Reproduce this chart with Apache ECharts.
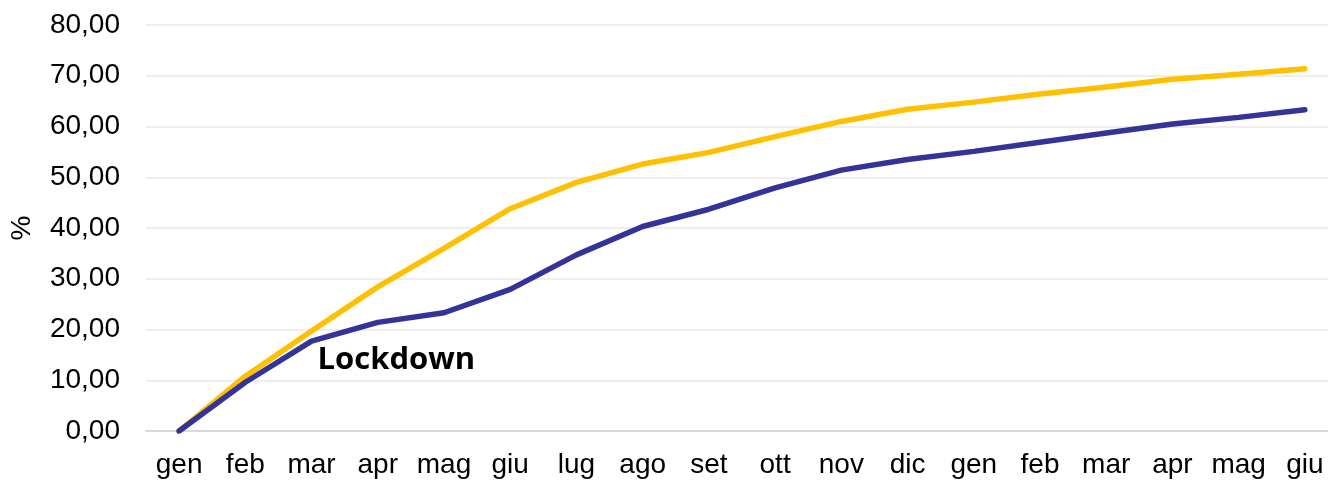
<!DOCTYPE html>
<html>
<head>
<meta charset="utf-8">
<script src="https://cdn.jsdelivr.net/npm/echarts@6/dist/echarts.min.js"></script>
<style>
html,body{margin:0;padding:0;background:#fff;}
#c{width:1328px;height:481px;}
</style>
</head>
<body>
<div id="c"></div>
<script>
const categories = ['gen','feb','mar','apr','mag','giu','lug','ago','set','ott','nov','dic','gen','feb','mar','apr','mag','giu'];
const yellowSeries = [0, 10.8, 19.7, 28.4, 36.0, 43.8, 49.0, 52.6, 54.9, 58.0, 61.0, 63.4, 64.8, 66.4, 67.8, 69.3, 70.3, 71.4];
const blueSeries = [0, 9.6, 17.7, 21.4, 23.3, 27.9, 34.7, 40.3, 43.7, 47.9, 51.4, 53.5, 55.1, 56.9, 58.7, 60.5, 61.8, 63.3];
const yTicks = {min: 0, max: 80, interval: 10};
const annotation = 'Lockdown';

const chart = echarts.init(document.getElementById('c'));
const fmt = v => v.toFixed(2).replace('.', ',');
chart.setOption({
  animation: false,
  grid: {left: 146, width: 1192, top: 25, bottom: 50, containLabel: false, outerBoundsMode: 'none'},
  xAxis: {
    type: 'category',
    data: categories,
    boundaryGap: true,
    axisLine: {show: true, lineStyle: {color: '#d9d9d9', width: 2}},
    axisTick: {show: false},
    axisLabel: {color: '#000', fontFamily: 'Liberation Sans', fontSize: 28, margin: 20, interval: 0}
  },
  yAxis: {
    type: 'value',
    min: yTicks.min, max: yTicks.max, interval: yTicks.interval,
    name: '%',
    nameLocation: 'middle',
    nameGap: 110,
    nameRotate: 90,
    nameTextStyle: {color: '#000', fontFamily: 'Liberation Sans', fontSize: 28},
    axisLine: {show: false},
    axisTick: {show: false},
    splitLine: {lineStyle: {color: '#eeeeee', width: 2}},
    axisLabel: {color: '#000', fontFamily: 'Liberation Sans', fontSize: 28, margin: 26, formatter: fmt}
  },
  series: [
    {type: 'line', data: yellowSeries, symbol: 'none', lineStyle: {color: '#FFC000', width: 5.5, cap: 'round'}, itemStyle: {color: '#FFC000'}},
    {type: 'line', data: blueSeries, symbol: 'none', lineStyle: {color: '#333399', width: 5.5, cap: 'round'}, itemStyle: {color: '#333399'},
     markPoint: {
       symbol: 'circle', symbolSize: 0,
       data: [{coord: [2, blueSeries[2]]}],
       label: {show: true, formatter: annotation, position: 'right', offset: [1, 19],
               color: '#000', fontFamily: 'Open Sans', fontWeight: 'bold', fontSize: 31}
     }}
  ]
});
</script>
</body>
</html>
